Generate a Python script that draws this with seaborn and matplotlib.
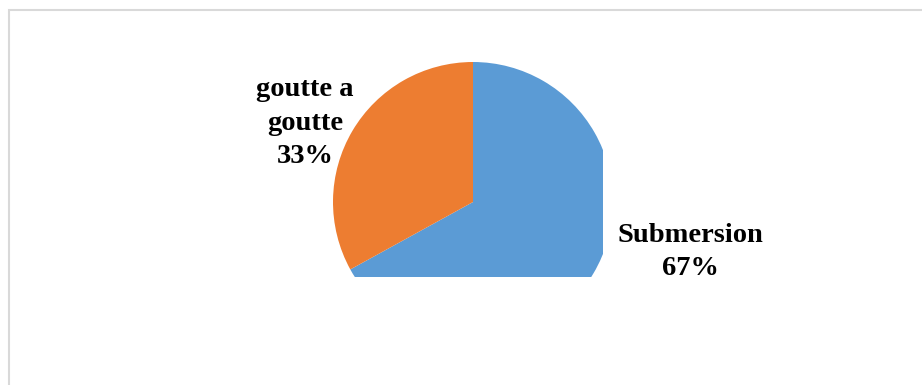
import matplotlib
matplotlib.use("Agg")
import matplotlib.pyplot as plt
from matplotlib.patches import Rectangle
import seaborn as sns

# Irrigation methods and their shares (%)
methods = ["Submersion", "goutte a goutte"]
shares = [67, 33]
label_text = ["Submersion\n67%", "goutte a\ngoutte\n33%"]

sns.set_style("white")
colors = ["#5B9BD5", "#ED7D31"]

W, H = 922, 385
fig = plt.figure(figsize=(W / 100, H / 100), dpi=100)

# Pie axes: circle of radius 1 centred at (0, 0), clipped on the right and bottom
cx, cy, r = 473, 202, 140
left_px, right_px, top_px, bottom_px = 332, 603, 62, 277
ax = fig.add_axes([left_px / W, (H - bottom_px) / H,
                   (right_px - left_px) / W, (bottom_px - top_px) / H])
wedges, _ = ax.pie(shares, colors=colors, startangle=90, counterclock=False,
                   radius=1.0, wedgeprops=dict(linewidth=0))
for w in wedges:
    w.set_clip_on(True)
ax.set_xlim((left_px - cx) / r, (right_px - cx) / r)
ax.set_ylim(-(bottom_px - cy) / r, (cy - top_px) / r)
ax.set_aspect("auto")
ax.axis("off")

font = dict(family="Liberation Serif", weight="bold", size=20.5, color="black",
            ha="center", va="center", linespacing=1.47)
fig.text(690 / W, 1 - 252 / H, label_text[0], **font)
fig.text(305 / W, 1 - 123 / H, label_text[1], **font)

# Light grey frame around the chart area
fig.patches.append(Rectangle((8.5 / W, -0.01), (925 - 8.5) / W, (H - 9.5) / H + 0.01,
                             transform=fig.transFigure, fill=False,
                             edgecolor="#d9d9d9", linewidth=1.5))

fig.savefig("out.png", dpi=100, facecolor="white")
